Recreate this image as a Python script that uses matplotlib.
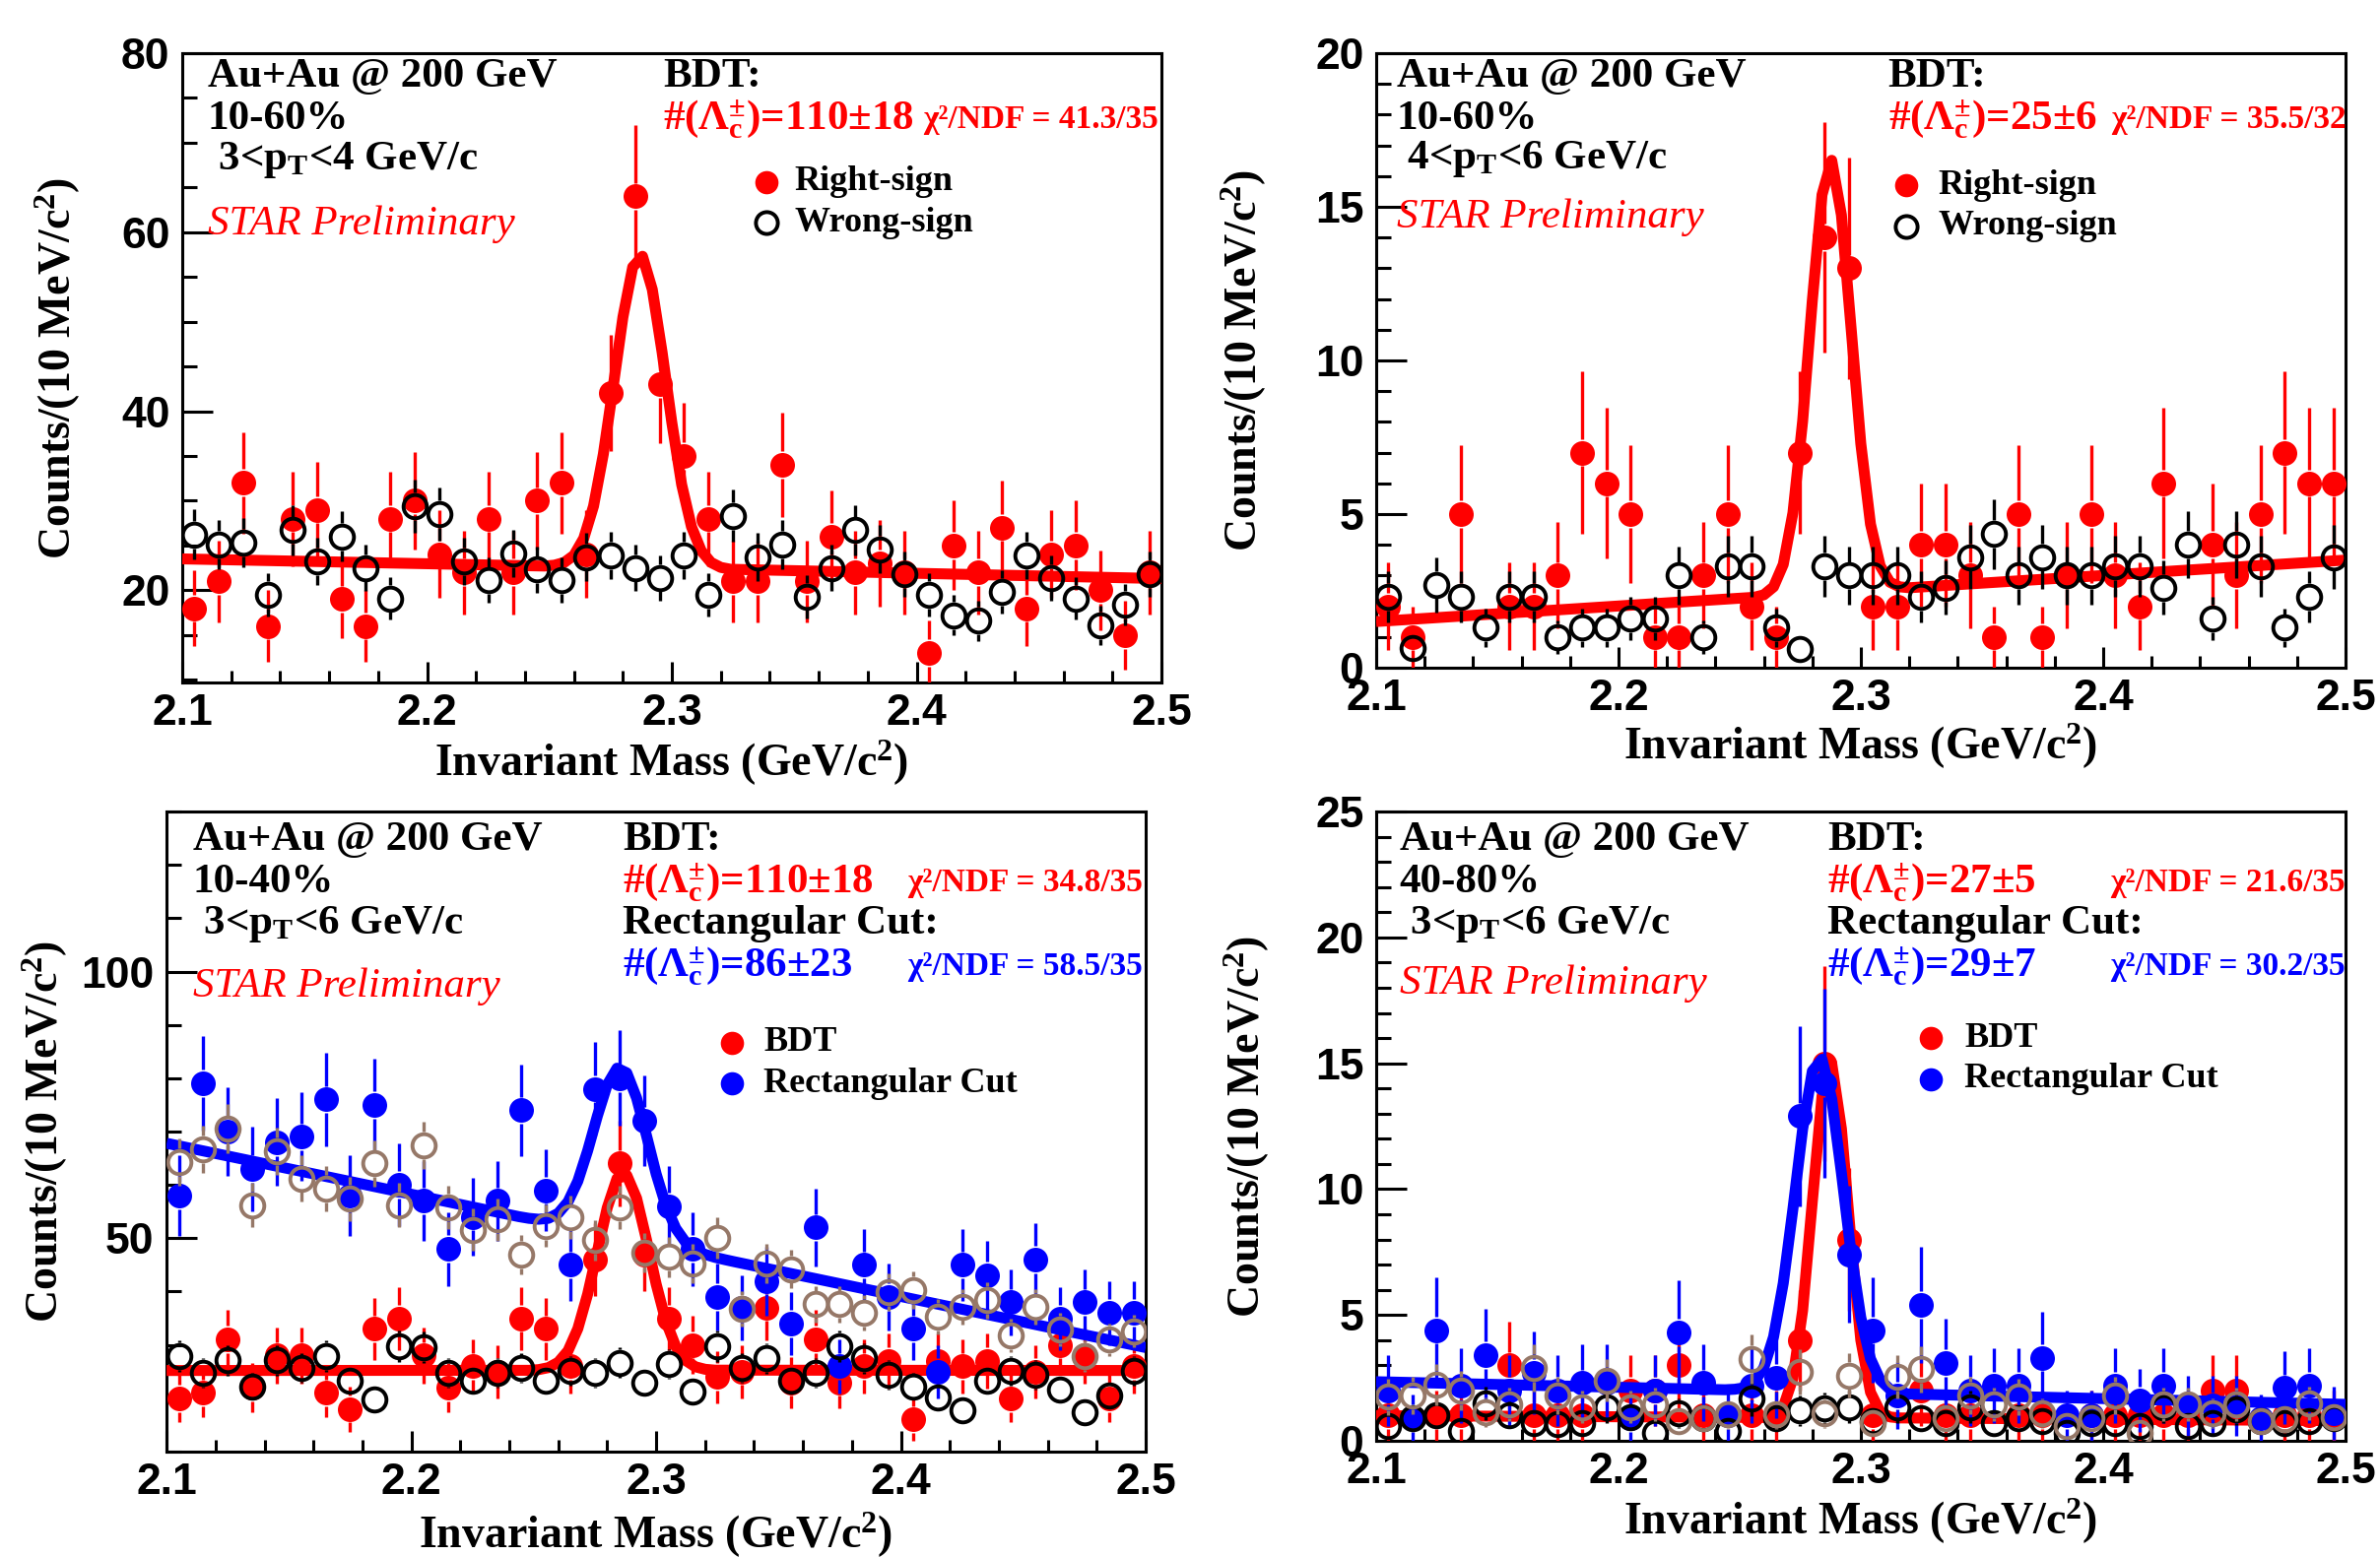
import numpy as np
import matplotlib
matplotlib.use("Agg")
import matplotlib.pyplot as plt
from matplotlib.ticker import MultipleLocator, FixedLocator, FixedFormatter
from matplotlib.collections import LineCollection

plt.rcParams.update({
    "font.family": "Liberation Sans",
    "font.weight": "bold",
    "mathtext.fontset": "custom",
    "mathtext.rm": "Liberation Serif:bold",
    "mathtext.it": "Liberation Serif:italic:bold",
    "mathtext.bf": "Liberation Serif:bold",
    "mathtext.sf": "Liberation Serif:bold",
})

# ---------------- data ----------------
MASS = [2.105, 2.115, 2.125, 2.135, 2.145, 2.155, 2.165, 2.175, 2.185, 2.195,
        2.205, 2.215, 2.225, 2.235, 2.245, 2.255, 2.265, 2.275, 2.285, 2.295,
        2.305, 2.315, 2.325, 2.335, 2.345, 2.355, 2.365, 2.375, 2.385, 2.395,
        2.405, 2.415, 2.425, 2.435, 2.445, 2.455, 2.465, 2.475, 2.485, 2.495]
NAN = float("nan")
X_TICKS = [2.1, 2.2, 2.3, 2.4, 2.5]
X_TICK_LABELS = ["2.1", "2.2", "2.3", "2.4", "2.5"]

# Panel 1: 10-60 %, 3<pT<4
P1_RS = [18, 21, 32, 16, 28, 29, 19, 16, 28, 30, 24, 22, 28, 22, 30, 32, 24, 42, 64, 43,
         35, 28, 21, 21, 34, 21, 26, 22, 23, 22, 13, 25, 22, 27, 18, 24, 25, 20, 15, 22]
P1_WS = [26.2, 25.1, 25.3, 19.5, 26.7, 23.2, 26.0, 22.5, 19.1, 29.4, 28.5, 23.2, 21.1, 24.1,
         22.3, 21.1, 23.7, 23.9, 22.5, 21.4, 23.9, 19.5, 28.3, 23.7, 25.1, 19.3, 22.5, 26.7,
         24.6, 21.8, 19.5, 17.2, 16.6, 19.8, 23.9, 21.4, 19.1, 16.1, 18.4, 21.8]
P1_FIT_X = [2.1, 2.248, 2.252, 2.256, 2.26, 2.264, 2.268, 2.272, 2.276, 2.28, 2.284, 2.288,
            2.292, 2.296, 2.3, 2.304, 2.308, 2.312, 2.316, 2.32, 2.324, 2.5]
P1_FIT_Y = [23.5, 22.7, 22.8, 23.1, 23.9, 25.8, 29.4, 35.2, 42.7, 50.5, 56.1, 57.3,
            53.6, 46.6, 38.7, 31.8, 27.1, 24.4, 23.1, 22.55, 22.34, 21.3]

# Panel 2: 10-60 %, 4<pT<6
P2_RS = [2, 1, NAN, 5, NAN, 2, 2, 3, 7, 6, 5, 1, 1, 3, 5, 2, 1, 7, 14, 13,
         2, 2, 4, 4, 3, 1, 5, 1, 3, 5, 3, 2, 6, NAN, 4, 3, 5, 7, 6, 6]
P2_WS = [2.3, 0.65, 2.7, 2.3, 1.3, 2.3, 2.3, 1.0, 1.3, 1.3, 1.6, 1.6, 3.0, 1.0, 3.3, 3.3,
         1.3, 0.6, 3.3, 3.0, 3.0, 3.0, 2.3, 2.6, 3.6, 4.35, 3.0, 3.6, 3.0, 3.0, 3.3, 3.3,
         2.6, 4.0, 1.6, 4.0, 3.3, 1.3, 2.3, 3.6]
P2_FIT_X = [2.1, 2.256, 2.26, 2.264, 2.268, 2.272, 2.276, 2.28, 2.284, 2.288, 2.292,
            2.296, 2.3, 2.304, 2.308, 2.312, 2.316, 2.32, 2.5]
P2_FIT_Y = [1.5, 2.29, 2.37, 2.63, 3.36, 5.04, 8.02, 11.95, 15.39, 16.51, 14.73,
            11.04, 7.29, 4.67, 3.31, 2.78, 2.63, 2.6, 3.5]

# Panel 3: 10-40 %, 3<pT<6
P3_BDT = [20, 21, 31, 22, 28, 28, 21, 18, 33, 35, 28, 22, 26, 25, 35, 33, 26, 46, 64, 47,
          35, 30, 24, 25, 37, 23, 31, 23, 26, 27, 16, 27, 26, 27, 20, 25, 30, 28, 20, 26]
P3_RECT = [58, 79, 70, 63, 68, 69, 76, 58, 75, 60, 57, 48, 54, 57, 74, 59, 45, 78, 80, 72,
           56, 48, 39, 37, 42, 34, 52, 26, 45, 39, 33, 25, 45, 43, 38, 46, 35, 38, 36, 36]
P3_BDT_WS = [27.9, 24.8, 27.1, 22.1, 27.1, 25.6, 27.9, 23.3, 19.8, 29.8, 29.5, 24.8, 23.3,
             24.8, 25.6, 23.3, 25.2, 24.8, 26.7, 22.9, 26.4, 21.3, 29.8, 25.6, 27.5, 23.3,
             24.8, 29.8, 27.5, 24.4, 22.1, 20.2, 17.8, 23.3, 25.2, 24.4, 21.7, 17.4, 20.5, 25.2]
P3_RECT_WS = [64.3, 66.7, 70.5, 56.2, 66.3, 61.2, 59.3, 57.4, 64.0, 56.2, 67.4, 55.8, 51.6,
              53.5, 46.9, 52.3, 53.9, 49.6, 55.8, 47.3, 46.5, 45.3, 50.0, 36.8, 45.3, 44.2,
              37.6, 37.6, 36.0, 39.9, 40.3, 35.3, 37.2, 38.4, 31.8, 37.2, 32.9, 27.9, 31.0, 32.6]
P3_BDT_FIT_X = [2.1, 2.248, 2.252, 2.256, 2.26, 2.264, 2.268, 2.272, 2.276, 2.28, 2.284,
                2.288, 2.292, 2.296, 2.3, 2.304, 2.308, 2.312, 2.316, 2.32, 2.324, 2.5]
P3_BDT_FIT_Y = [25.2, 25.24, 25.37, 25.74, 26.74, 28.9, 33.05, 39.5, 47.6, 55.7, 61.2,
                61.8, 57.5, 49.8, 41.4, 34.4, 29.7, 27.1, 25.9, 25.43, 25.27, 25.2]
P3_RECT_FIT_X = [2.1, 2.244, 2.248, 2.252, 2.256, 2.26, 2.264, 2.268, 2.272, 2.276, 2.28,
                 2.284, 2.288, 2.292, 2.296, 2.3, 2.304, 2.308, 2.312, 2.316, 2.32, 2.324,
                 2.328, 2.332, 2.5]
P3_RECT_FIT_Y = [67.8, 54.04, 53.73, 53.56, 53.73, 54.68, 56.84, 60.71, 66.4, 72.95, 78.77,
                 81.88, 81.0, 76.3, 69.33, 62.05, 56.05, 51.85, 49.26, 47.81, 46.97, 46.42,
                 45.99, 45.59, 29.5]

# Panel 4: 40-80 %, 3<pT<6
P4_BDT = [1, NAN, 1, 1, NAN, 3, 1, 1, 1, NAN, 2, 2, 3, 1, NAN, 1, 1, 4, 15, 8,
          1, NAN, 2, 1, 1, NAN, 1, 1, NAN, 1, 1, 1, 1, 1, 2, 2, NAN, 1, 1, 1]
P4_RECT = [2.0, 0.9, 4.4, 2.2, 3.4, 2.0, 2.7, 2.0, 2.3, 2.3, 0.9, 2.0, 4.3, 2.3, 1.0, 2.2,
           2.5, 12.9, 14.2, 7.4, 4.4, 1.8, 5.4, 3.1, 2.0, 2.2, 2.2, 3.3, 1.0, 1.0, 2.2, 1.6,
           2.2, 1.4, 1.4, 1.4, 0.9, 2.1, 2.2, 1.1]
P4_BDT_WS = [0.6, 0.9, 1.0, 0.4, 1.5, 1.0, 0.7, 0.65, 0.7, 1.35, 0.95, 0.3, 1.1, 0.9, 0.4,
             1.7, 0.9, 1.2, 1.3, 1.35, 0.8, 1.35, 0.9, 0.7, 1.35, 0.7, 0.9, 0.8, 0.3, 0.7,
             0.7, 0.6, 1.35, 0.6, 0.7, 1.25, 0.8, 0.7, 0.8, 0.9]
P4_RECT_WS = [1.75, 1.8, 2.25, 2.0, 1.15, 1.45, 2.9, 1.8, 1.35, 2.4, 1.35, 1.45, 0.8, 0.9,
              1.05, 3.25, 1.05, 2.75, 1.1, 2.6, 0.7, 2.55, 2.85, 0.9, 1.8, 1.45, 1.75, 1.1,
              0.6, 0.9, 1.8, 0.3, 1.45, 1.45, 1.1, 1.45, 0.8, 0.85, 1.5, 0.95]
P4_BDT_FIT_X = [2.1, 2.26, 2.264, 2.268, 2.272, 2.276, 2.28, 2.284, 2.288, 2.292, 2.296,
                2.3, 2.304, 2.308, 2.312, 2.316, 2.5]
P4_BDT_FIT_Y = [1.0, 0.93, 1.0, 1.34, 2.49, 5.18, 9.51, 13.7, 15.0, 12.4, 7.9,
                4.0, 1.93, 1.15, 0.95, 0.91, 0.8]
P4_RECT_FIT_X = [2.1, 2.244, 2.248, 2.252, 2.256, 2.26, 2.264, 2.268, 2.272, 2.276, 2.28,
                 2.284, 2.288, 2.292, 2.296, 2.3, 2.304, 2.308, 2.312, 2.316, 2.32, 2.5]
P4_RECT_FIT_Y = [2.35, 2.03, 2.05, 2.11, 2.33, 2.91, 4.13, 6.26, 9.22, 12.38, 14.69,
                 15.16, 13.58, 10.64, 7.46, 4.9, 3.26, 2.42, 2.05, 1.91, 1.86, 1.45]

WS_ERR_SCALE = 0.3   # wrong-sign histograms are normalised -> smaller Poisson errors

# ---------------- style ----------------
RED = "#ff0000"
BLUE = "#0000ff"
BLACK = "#000000"
BROWN = "#967868"
SERIF = "Liberation Serif"
DPI = 100
MS = 17
MEW = 2.8
ELW = 2.4
FIT_LW = 8
TXT = 31
CHI = 24

fig = plt.figure(figsize=(24.16, 15.81), dpi=DPI)


def make_axes(rect, ylim, ymajor, yminor):
    ax = fig.add_axes(rect)
    ax.set_xlim(2.1, 2.5)
    ax.set_ylim(*ylim)
    ax.xaxis.set_major_locator(FixedLocator(X_TICKS))
    ax.xaxis.set_major_formatter(FixedFormatter(X_TICK_LABELS))
    ax.xaxis.set_minor_locator(MultipleLocator(0.02))
    ax.yaxis.set_major_locator(MultipleLocator(ymajor))
    ax.yaxis.set_minor_locator(MultipleLocator(yminor))
    ax.tick_params(axis="both", which="both", direction="in", top=False, right=False,
                   width=2.2, labelsize=32)
    ax.tick_params(axis="x", which="major", length=15, pad=8)
    ax.tick_params(axis="x", which="minor", length=9)
    ax.tick_params(axis="y", which="major", length=22, pad=9)
    ax.tick_params(axis="y", which="minor", length=11)
    for sp in ax.spines.values():
        sp.set_linewidth(2.2)
    return ax


def draw_series(ax, values, color, filled, err_scale, z):
    x = np.array(MASS, float)
    y = np.array(values, float)
    ok = ~np.isnan(y)
    x, y = x[ok], y[ok]
    err = np.sqrt(y * err_scale)
    tr = ax.transData
    inv = tr.inverted()
    r = (MS / 2 + MEW / 2) * DPI / 72.0
    c = tr.transform(np.column_stack([x, y]))
    top = tr.transform(np.column_stack([x, y + err]))[:, 1]
    bot = tr.transform(np.column_stack([x, y - err]))[:, 1]
    segs = []
    for (px, py), t, b in zip(c, top, bot):
        if t > py + r:
            segs.append(inv.transform([(px, py + r), (px, t)]))
        if b < py - r:
            segs.append(inv.transform([(px, py - r), (px, b)]))
    ax.add_collection(LineCollection(segs, colors=color, linewidths=ELW, zorder=z))
    if filled:
        ax.plot(x, y, "o", ms=MS + 1, mfc=color, mec=color, mew=0, ls="none", zorder=z)
    else:
        ax.plot(x, y, "o", ms=MS, mfc="none", mec=color, mew=MEW, ls="none", zorder=z)


def draw_fit(ax, fx, fy, color, z):
    ax.plot(fx, fy, color=color, lw=FIT_LW, solid_joinstyle="round",
            solid_capstyle="butt", zorder=z)


def txt(ax, x, y, s, color=BLACK, size=TXT, style="normal", weight="bold"):
    ax.text(x, y, s, transform=ax.transAxes, color=color, fontsize=size,
            fontfamily=SERIF, fontweight=weight, fontstyle=style,
            ha="left", va="center", zorder=10)


def legend_entry(ax, x, y, xt, label, color, filled):
    if filled:
        ax.plot([x], [y], "o", ms=MS, mfc=color, mec=color, mew=0,
                transform=ax.transAxes, clip_on=False, zorder=10)
    else:
        ax.plot([x], [y], "o", ms=MS - 1, mfc="none", mec=color, mew=MEW,
                transform=ax.transAxes, clip_on=False, zorder=10)
    txt(ax, xt, y, label, size=26)


def axis_titles(ax, xl_y, yl_x):
    ax.text(0.5, xl_y, "Invariant Mass (GeV/c$^{2}$)", transform=ax.transAxes,
            fontsize=33, fontfamily=SERIF, fontweight="bold", ha="center", va="center")
    ax.text(yl_x, 0.5, "Counts/(10 MeV/c$^{2}$)", transform=ax.transAxes, rotation=90,
            fontsize=33, fontfamily=SERIF, fontweight="bold", ha="center", va="center")


LAMBDA = r"#($\mathrm{\Lambda}_{\mathrm{c}}^{\pm}$)="

# ---------------- panel 1 ----------------
ax1 = make_axes([0.0766, 0.5617, 0.4114, 0.4042], (9.7, 80), 20, 5)
draw_series(ax1, P1_RS, RED, True, 1.0, 3)
draw_fit(ax1, P1_FIT_X, P1_FIT_Y, RED, 4)
draw_series(ax1, P1_WS, BLACK, False, WS_ERR_SCALE, 7)
txt(ax1, 0.026, 0.962, "Au+Au @ 200 GeV")
txt(ax1, 0.026, 0.895, "10-60%")
txt(ax1, 0.026, 0.830, " 3<p$_{\\mathrm{T}}$<4 GeV/c")
txt(ax1, 0.026, 0.728, "STAR Preliminary", color=RED, style="italic", weight="normal")
txt(ax1, 0.491, 0.962, "BDT:")
txt(ax1, 0.491, 0.895, LAMBDA + "110±18", color=RED)
txt(ax1, 0.757, 0.895, "χ²/NDF = 41.3/35", color=RED, size=CHI)
legend_entry(ax1, 0.597, 0.795, 0.625, "Right-sign", RED, True)
legend_entry(ax1, 0.597, 0.730, 0.625, "Wrong-sign", BLACK, False)
axis_titles(ax1, -0.128, -0.127)

# ---------------- panel 2 ----------------
ax2 = make_axes([0.5782, 0.5712, 0.4073, 0.3947], (0, 20), 5, 1)
draw_series(ax2, P2_RS, RED, True, 1.0, 3)
draw_fit(ax2, P2_FIT_X, P2_FIT_Y, RED, 4)
draw_series(ax2, P2_WS, BLACK, False, WS_ERR_SCALE, 7)
txt(ax2, 0.021, 0.961, "Au+Au @ 200 GeV")
txt(ax2, 0.021, 0.892, "10-60%")
txt(ax2, 0.021, 0.828, " 4<p$_{\\mathrm{T}}$<6 GeV/c")
txt(ax2, 0.021, 0.732, "STAR Preliminary", color=RED, style="italic", weight="normal")
txt(ax2, 0.528, 0.961, "BDT:")
txt(ax2, 0.528, 0.892, LAMBDA + "25±6", color=RED)
txt(ax2, 0.758, 0.892, "χ²/NDF = 35.5/32", color=RED, size=CHI)
legend_entry(ax2, 0.547, 0.785, 0.580, "Right-sign", RED, True)
legend_entry(ax2, 0.547, 0.718, 0.580, "Wrong-sign", BLACK, False)
axis_titles(ax2, -0.128, -0.136)

# ---------------- panel 3 ----------------
ax3 = make_axes([0.0700, 0.0677, 0.4114, 0.4111], (10, 130), 50, 10)
draw_series(ax3, P3_BDT, RED, True, 1.0, 3)
draw_fit(ax3, P3_BDT_FIT_X, P3_BDT_FIT_Y, RED, 4)
draw_series(ax3, P3_RECT, BLUE, True, 1.0, 5)
draw_fit(ax3, P3_RECT_FIT_X, P3_RECT_FIT_Y, BLUE, 6)
draw_series(ax3, P3_BDT_WS, BLACK, False, WS_ERR_SCALE, 7)
draw_series(ax3, P3_RECT_WS, BROWN, False, WS_ERR_SCALE, 8)
txt(ax3, 0.027, 0.955, "Au+Au @ 200 GeV")
txt(ax3, 0.027, 0.889, "10-40%")
txt(ax3, 0.027, 0.824, " 3<p$_{\\mathrm{T}}$<6 GeV/c")
txt(ax3, 0.027, 0.727, "STAR Preliminary", color=RED, style="italic", weight="normal")
txt(ax3, 0.466, 0.955, "BDT:")
txt(ax3, 0.466, 0.889, LAMBDA + "110±18", color=RED)
txt(ax3, 0.757, 0.889, "χ²/NDF = 34.8/35", color=RED, size=CHI)
txt(ax3, 0.466, 0.824, "Rectangular Cut:")
txt(ax3, 0.466, 0.758, LAMBDA + "86±23", color=BLUE)
txt(ax3, 0.757, 0.758, "χ²/NDF = 58.5/35", color=BLUE, size=CHI)
legend_entry(ax3, 0.577, 0.639, 0.610, "BDT", RED, True)
legend_entry(ax3, 0.577, 0.575, 0.610, "Rectangular Cut", BLUE, True)
axis_titles(ax3, -0.131, -0.124)

# ---------------- panel 4 ----------------
ax4 = make_axes([0.5782, 0.0746, 0.4073, 0.4042], (0, 25), 5, 1)
draw_series(ax4, P4_BDT, RED, True, 1.0, 3)
draw_fit(ax4, P4_BDT_FIT_X, P4_BDT_FIT_Y, RED, 4)
draw_series(ax4, P4_RECT, BLUE, True, 1.0, 5)
draw_fit(ax4, P4_RECT_FIT_X, P4_RECT_FIT_Y, BLUE, 6)
draw_series(ax4, P4_BDT_WS, BLACK, False, WS_ERR_SCALE, 7)
draw_series(ax4, P4_RECT_WS, BROWN, False, WS_ERR_SCALE, 8)
txt(ax4, 0.024, 0.954, "Au+Au @ 200 GeV")
txt(ax4, 0.024, 0.887, "40-80%")
txt(ax4, 0.024, 0.821, " 3<p$_{\\mathrm{T}}$<6 GeV/c")
txt(ax4, 0.024, 0.727, "STAR Preliminary", color=RED, style="italic", weight="normal")
txt(ax4, 0.466, 0.954, "BDT:")
txt(ax4, 0.466, 0.887, LAMBDA + "27±5", color=RED)
txt(ax4, 0.757, 0.887, "χ²/NDF = 21.6/35", color=RED, size=CHI)
txt(ax4, 0.466, 0.821, "Rectangular Cut:")
txt(ax4, 0.466, 0.754, LAMBDA + "29±7", color=BLUE)
txt(ax4, 0.757, 0.754, "χ²/NDF = 30.2/35", color=BLUE, size=CHI)
legend_entry(ax4, 0.572, 0.640, 0.607, "BDT", RED, True)
legend_entry(ax4, 0.572, 0.575, 0.607, "Rectangular Cut", BLUE, True)
axis_titles(ax4, -0.128, -0.133)

fig.savefig("out.png", dpi=DPI)
